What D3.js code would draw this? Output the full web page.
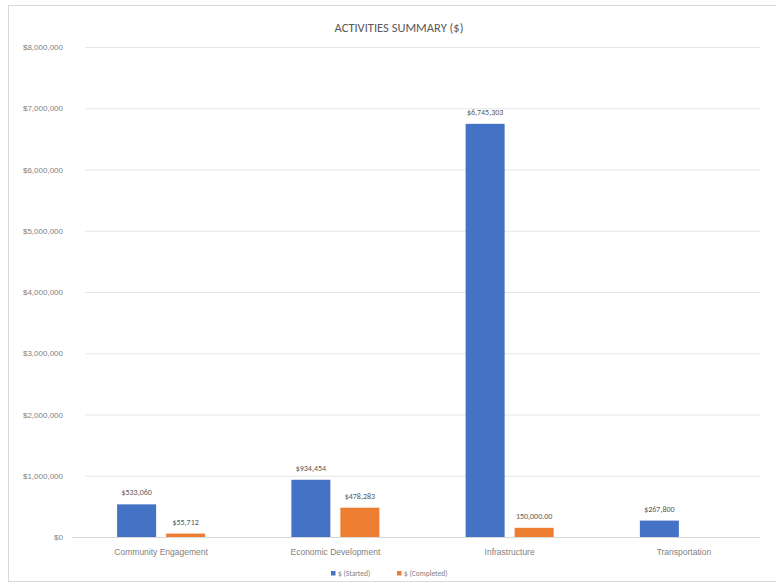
<!DOCTYPE html>
<html><head><meta charset="utf-8">
<script src="https://cdn.jsdelivr.net/npm/d3@7"></script>
<style>body{margin:0;background:#fff}svg{display:block;font-family:Calibri,"Open Sans","Liberation Sans",sans-serif}</style>
</head><body>
<script>
const categories = ["Community Engagement","Economic Development","Infrastructure","Transportation"];
const seriesNames = ["$ (Started)","$ (Completed)"];
const started = [533060, 934454, 6745303, 267800];
const completed = [55712, 478283, 150000, 0];
const startedLabels = ["$533,060","$934,454","$6,745,303","$267,800"];
const completedLabels = ["$55,712","$478,283","150,000.00",""];
const yTicks = [0,1000000,2000000,3000000,4000000,5000000,6000000,7000000,8000000];
const colors = ["#4472C4","#ED7D31"];

const W=776,H=586;
const svg=d3.select("body").append("svg").attr("width",W).attr("height",H);
svg.append("rect").attr("x",8.5).attr("y",5.5).attr("width",770).attr("height",576)
  .attr("fill","#fff").attr("stroke","#d9d9d9");
const m={l:85,r:760,t:47,b:537};
const x=d3.scaleBand().domain(categories).range([74,771]).paddingInner(0).paddingOuter(0);
const y=d3.scaleLinear().domain([0,8000000]).range([m.b,m.t]);
const x1=d3.scaleBand().domain([0,1]).range([0,x.bandwidth()]).paddingInner(0.204).paddingOuter(0.88);

const fmt=d3.format("$,");
const yAxis=d3.axisLeft(y).tickValues(yTicks).tickFormat(fmt).tickSize(-(m.r-m.l)).tickPadding(22);
const ga=svg.append("g").attr("transform",`translate(${m.l},0)`).call(yAxis);
ga.select(".domain").remove();
ga.selectAll(".tick line").attr("stroke","#e6e6e6");
ga.selectAll(".tick text").attr("fill","#7f7f7f").attr("font-size",8);

svg.append("line").attr("x1",72).attr("x2",m.r).attr("y1",m.b+0.5).attr("y2",m.b+0.5).attr("stroke","#d9d9d9");
const xAxis=d3.axisBottom(x).tickSize(0).tickPadding(12);
const gx=svg.append("g").attr("transform",`translate(0,${m.b})`).call(xAxis);
gx.select(".domain").remove();
gx.selectAll(".tick text").attr("fill","#7f7f7f").attr("font-size",8.5);

const series=[{v:started,l:startedLabels},{v:completed,l:completedLabels}];
series.forEach((s,si)=>{
  const g=svg.append("g");
  categories.forEach((c,i)=>{
    const v=s.v[i];
    if(v>0){
      g.append("rect").attr("x",x(c)+x1(si)).attr("width",x1.bandwidth())
       .attr("y",y(v)).attr("height",y(0)-y(v)).attr("fill",colors[si]);
    }
    if(s.l[i]){
      g.append("text").attr("x",x(c)+x1(si)+x1.bandwidth()/2).attr("y",y(v)-9)
       .attr("text-anchor","middle").attr("font-size",8).attr("fill","#595959").text(s.l[i]);
    }
  });
});

svg.append("text").attr("x",399).attr("y",32).attr("text-anchor","middle")
  .attr("font-size",12.5).attr("fill","#595959").text("ACTIVITIES SUMMARY ($)");

const lg=svg.append("g");
const lx=[331,397];
seriesNames.forEach((n,i)=>{
  lg.append("rect").attr("x",lx[i]).attr("y",571).attr("width",4.5).attr("height",4.5).attr("fill",colors[i]);
  lg.append("text").attr("x",lx[i]+7).attr("y",576).attr("font-size",7.5).attr("fill","#7f7f7f").text(n);
});
</script>
</body></html>
